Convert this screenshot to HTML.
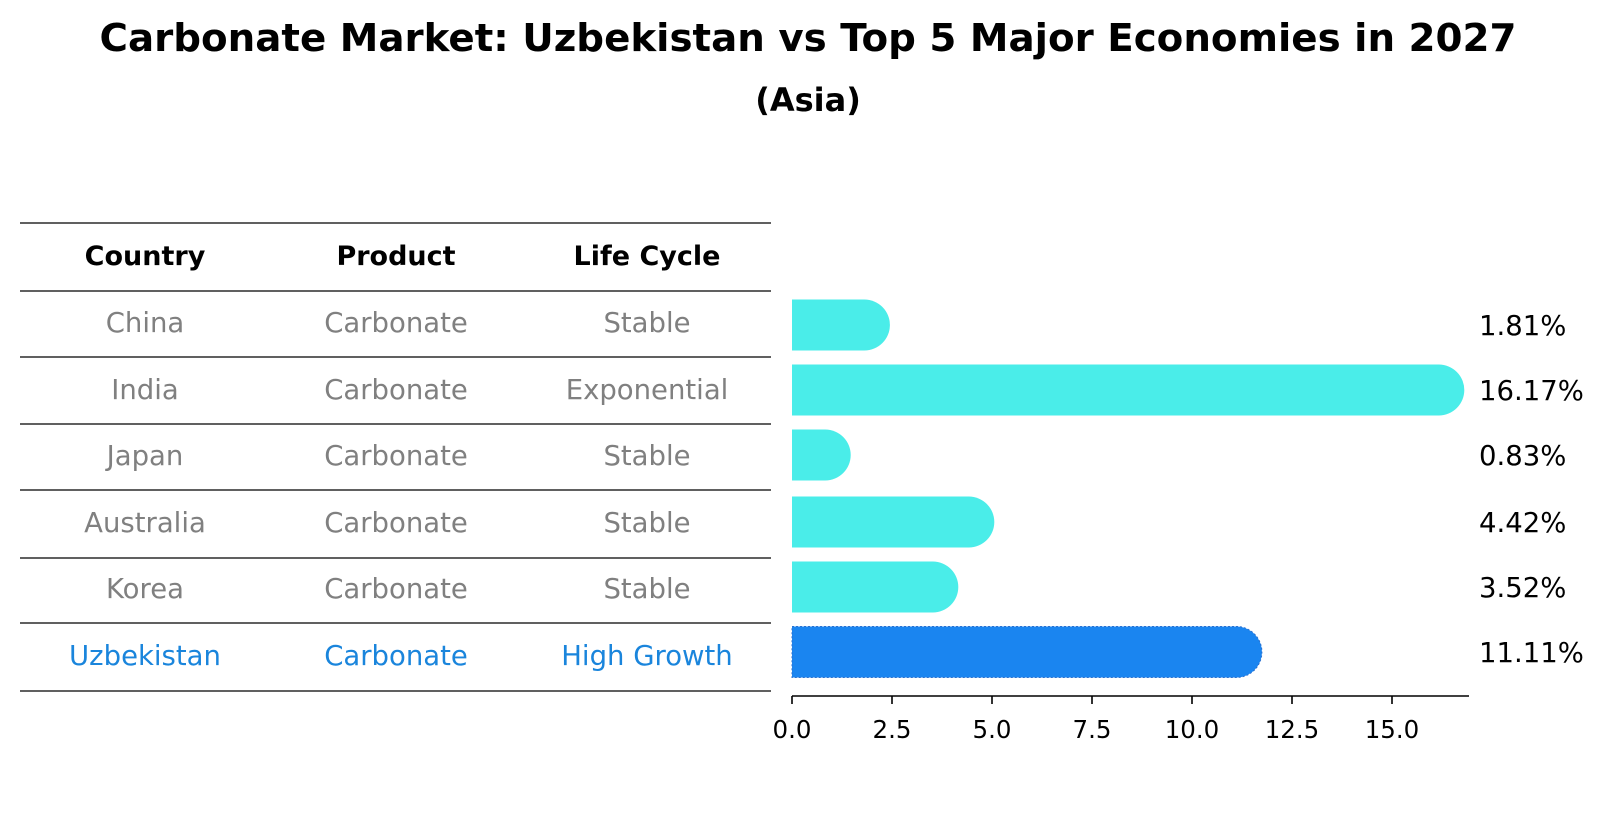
<!DOCTYPE html>
<html><head><meta charset="utf-8"><style>
html,body{margin:0;padding:0;background:#fff;}
svg{display:block;font-family:"DejaVu Sans","Liberation Sans",sans-serif;}
</style></head><body>
<svg id="chart" width="1604" height="823" viewBox="0 0 1604 823" xmlns="http://www.w3.org/2000/svg">
<text x="808" y="51" text-anchor="middle" font-weight="bold" font-size="38" textLength="1417" lengthAdjust="spacingAndGlyphs">Carbonate Market: Uzbekistan vs Top 5 Major Economies in 2027</text>
<text x="808" y="111" text-anchor="middle" font-weight="bold" font-size="32">(Asia)</text>
<g id="table"></g>
<g id="bars"></g>
</svg>
<script>
const countries = ["China","India","Japan","Australia","Korea","Uzbekistan"];
const products = ["Carbonate","Carbonate","Carbonate","Carbonate","Carbonate","Carbonate"];
const lifeCycles = ["Stable","Exponential","Stable","Stable","Stable","High Growth"];
const values = [1.81,16.17,0.83,4.42,3.52,11.11];
const ticks = [0,2.5,5,7.5,10,12.5,15];
const tickLabels = ["0.0","2.5","5.0","7.5","10.0","12.5","15.0"];
const headers = ["Country","Product","Life Cycle"];

const NS="http://www.w3.org/2000/svg";
function mk(tag,attrs,parent){const e=document.createElementNS(NS,tag);for(const k in attrs)e.setAttribute(k,attrs[k]);parent.appendChild(e);return e;}
const table=document.getElementById('table');
const bars=document.getElementById('bars');

const lineYs=[223,291,357,424,490,558,623,691];
lineYs.forEach((y,i)=>{const l=mk('line',{x1:20,x2:771,y1:y,y2:y,stroke:'#000','stroke-width':1.2},table);

});
const colX=[145,396,647];
headers.forEach((h,i)=>{const t=mk('text',{x:colX[i],y:265,'text-anchor':'middle','font-weight':'bold','font-size':27},table);t.textContent=h;

});
const rowC=[322,389,455,522,588,655];
countries.forEach((c,r)=>{
  const col = r===countries.length-1 ? '#1a85dc' : '#808080';
  [c,products[r],lifeCycles[r]].forEach((txt,i)=>{
    const t=mk('text',{x:colX[i],y:rowC[r]+10,'text-anchor':'middle','font-size':27.5,fill:col},table);t.textContent=txt;
    
    
  });
});

const x0=792, pxPerUnit=40;
function xs(v){return x0+v*pxPerUnit;}
const barC=[325,390,455,522,587,652], bh=51;
values.forEach((v,i)=>{
  const hi=i===values.length-1;
  const xe=xs(v), y=barC[i]-bh/2, r=bh/2;
  const d=`M${x0},${y} L${xe},${y} A${r},${r} 0 0 1 ${xe},${y+bh} L${x0},${y+bh} Z`;
  const p=mk('path',{d:d,fill:hi?'#1a85f0':'#4aede9'},bars);
  if(hi){p.setAttribute('stroke','#2a70d0');p.setAttribute('stroke-dasharray','2 2');p.setAttribute('stroke-width','1');}
  
  
  const t=mk('text',{x:1479,y:barC[i]+10,'font-size':27.5,fill:'#000'},bars);t.textContent=v.toFixed(2)+'%';
  
  
});
const ax=mk('line',{x1:x0,x2:1469,y1:696,y2:696,stroke:'#000','stroke-width':1.6},bars);


ticks.forEach((v,i)=>{
  const tk=mk('line',{x1:xs(v),x2:xs(v),y1:696,y2:704,stroke:'#000','stroke-width':1.6},bars);
  
  
  const t=mk('text',{x:xs(v),y:738,'text-anchor':'middle','font-size':24.5},bars);t.textContent=tickLabels[i];
  
  
});
</script>
</body></html>
